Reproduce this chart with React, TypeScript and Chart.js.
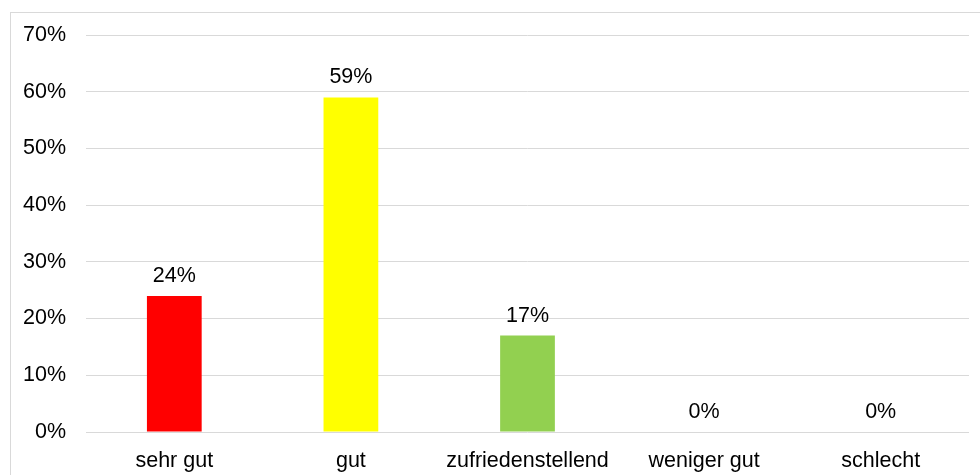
import React, { useEffect, useRef } from "react";
import { Chart, registerables } from "chart.js";

Chart.register(...registerables);

const categories = ["sehr gut", "gut", "zufriedenstellend", "weniger gut", "schlecht"];
const values = [24, 59, 17, 0, 0];
const barColors = ["#FF0000", "#FFFF00", "#92D050", "#92D050", "#92D050"];
const yMax = 70;
const yStep = 10;

const FONT = "Arial, 'Liberation Sans', sans-serif";
const FSIZE = 21.5;

export default function App() {
  const ref = useRef<HTMLCanvasElement | null>(null);

  useEffect(() => {
    document.body.style.margin = "0";
    const canvas = ref.current;
    if (!canvas) return;

    const frame = {
      id: "frame",
      beforeDraw(chart: any) {
        const ctx = chart.ctx;
        ctx.save();
        ctx.fillStyle = "#ffffff";
        ctx.fillRect(0, 0, chart.width, chart.height);
        ctx.strokeStyle = "#d9d9d9";
        ctx.lineWidth = 1;
        ctx.strokeRect(10.5, 12.5, 2000, 2000);
        ctx.restore();
      },
    };

    const dataLabels = {
      id: "dataLabels",
      afterDatasetsDraw(chart: any) {
        const ctx = chart.ctx;
        const meta = chart.getDatasetMeta(0);
        ctx.save();
        ctx.font = `${FSIZE}px ${FONT}`;
        ctx.fillStyle = "#000000";
        ctx.textAlign = "center";
        ctx.textBaseline = "alphabetic";
        meta.data.forEach((bar: any, i: number) => {
          ctx.fillText(values[i] + "%", bar.x, bar.y - 14);
        });
        ctx.restore();
      },
    };

    const chart = new Chart(canvas, {
      type: "bar",
      data: {
        labels: categories,
        datasets: [
          {
            data: values,
            backgroundColor: barColors,
            borderWidth: 0,
            barPercentage: 0.31,
            categoryPercentage: 1,
          },
        ],
      },
      options: {
        responsive: false,
        animation: false,
        layout: { padding: { top: 35, right: 11, left: 0, bottom: 0 } },
        plugins: {
          legend: { display: false },
          tooltip: { enabled: false },
        },
        scales: {
          x: {
            grid: { display: false, drawTicks: false },
            border: { display: false },
            ticks: {
              color: "#000000",
              font: { family: FONT, size: FSIZE },
              padding: 16,
              maxRotation: 0,
              autoSkip: false,
            },
            afterFit(scale: any) {
              scale.height = 43;
            },
          },
          y: {
            min: 0,
            max: yMax,
            grid: { color: "#d9d9d9", lineWidth: 1, drawTicks: false },
            border: { display: false },
            ticks: {
              stepSize: yStep,
              color: "#000000",
              font: { family: FONT, size: FSIZE },
              padding: 20,
              callback: (v: any) => v + "%",
            },
            afterFit(scale: any) {
              scale.width = 86;
            },
          },
        },
      },
      plugins: [frame, dataLabels],
    });

    return () => chart.destroy();
  }, []);

  return <canvas ref={ref} width={980} height={475} style={{ display: "block" }} />;
}
